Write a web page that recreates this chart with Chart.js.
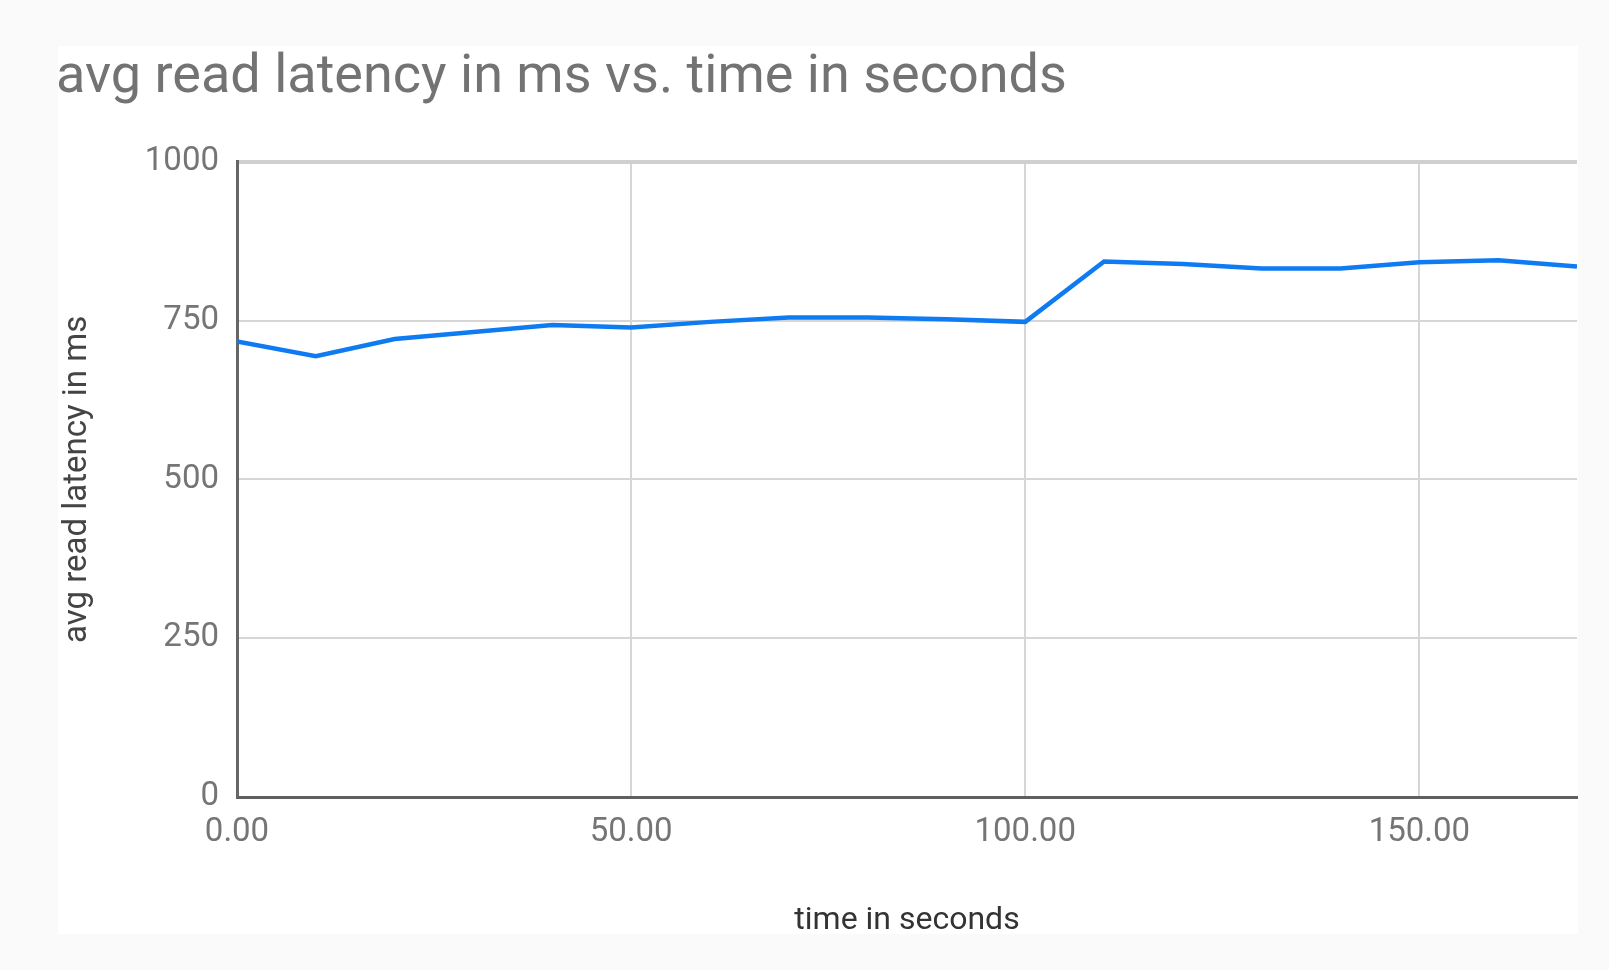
<!DOCTYPE html>
<html>
<head>
<meta charset="utf-8">
<title>avg read latency in ms vs. time in seconds</title>
<script src="https://cdn.jsdelivr.net/npm/chart.js@4/dist/chart.umd.min.js"></script>
<style>
  html, body { margin: 0; padding: 0; background: #fafafa; }
  #panel { position: absolute; left: 58px; top: 46px; width: 1520px; height: 888px; background: #fff; }
  #wrap { position: absolute; left: 0; top: 0; width: 1609px; height: 970px; }
</style>
</head>
<body>
<div id="panel"></div>
<div id="wrap"><canvas id="chart"></canvas></div>
<script>
// time in seconds (x) and avg read latency in ms (y)
const seconds = [0, 10, 20, 30, 40, 50, 60, 70, 80, 90, 100, 110, 120, 130, 140, 150, 160, 170];
const latency = [717, 694, 721, 732, 743, 739, 748, 755, 755, 752, 748, 843, 839, 832, 832, 842, 845, 835];
const yTicks = [0, 250, 500, 750, 1000];
const xTicks = [0, 50, 100, 150];

const FONT = 'Roboto, "Noto Sans", sans-serif';

new Chart(document.getElementById('chart'), {
  type: 'line',
  data: {
    datasets: [{
      label: 'avg read latency in ms',
      data: seconds.map((s, i) => ({ x: s, y: latency[i] })),
      borderColor: '#0f7bf2',
      borderWidth: 4.5,
      pointRadius: 0,
      tension: 0,
      fill: false
    }]
  },
  options: {
    responsive: true,
    maintainAspectRatio: false,
    animation: false,
    layout: { padding: { left: 56, right: 32, top: 0, bottom: 20 } },
    plugins: {
      legend: { display: false },
      tooltip: { enabled: false },
      title: {
        display: true,
        text: 'avg read latency in ms vs. time in seconds',
        align: 'start',
        color: '#737373',
        font: { family: FONT, size: 54, weight: 'normal' },
        padding: { top: 46, bottom: 51 }
      }
    },
    scales: {
      x: {
        type: 'linear',
        min: 0,
        max: 170,
        afterBuildTicks: s => { s.ticks = xTicks.map(v => ({ value: v })); },
        afterFit: s => { s.height = 153; },
        ticks: {
          color: '#757575',
          font: { family: FONT, size: 33 },
          padding: 16,
          callback: v => v.toFixed(2)
        },
        grid: {
          drawTicks: false,
          color: c => c.tick && c.tick.value === 0 ? 'rgba(0,0,0,0)' : '#d6d6d6',
          lineWidth: 2
        },
        border: { display: true, color: '#5f5f5f', width: 3 },
        title: {
          display: true,
          text: 'time in seconds',
          color: '#333',
          font: { family: FONT, size: 32 },
          padding: { top: 0, bottom: 10 }
        }
      },
      y: {
        min: 0,
        max: 1000,
        afterBuildTicks: s => { s.ticks = yTicks.map(v => ({ value: v })); },
        afterFit: s => { s.width = 181; },
        ticks: {
          color: '#757575',
          font: { family: FONT, size: 33 },
          padding: 18,
          callback: v => String(v)
        },
        grid: {
          drawTicks: false,
          color: c => c.tick && c.tick.value === 1000 ? '#d0d0d0' : '#d6d6d6',
          lineWidth: c => c.tick && c.tick.value === 1000 ? 4 : 2
        },
        border: { display: true, color: '#666', width: 3 },
        title: {
          display: true,
          text: 'avg read latency in ms',
          color: '#444',
          font: { family: FONT, size: 33 },
          padding: { top: 2, bottom: 0 }
        }
      }
    }
  }
});
</script>
</body>
</html>
